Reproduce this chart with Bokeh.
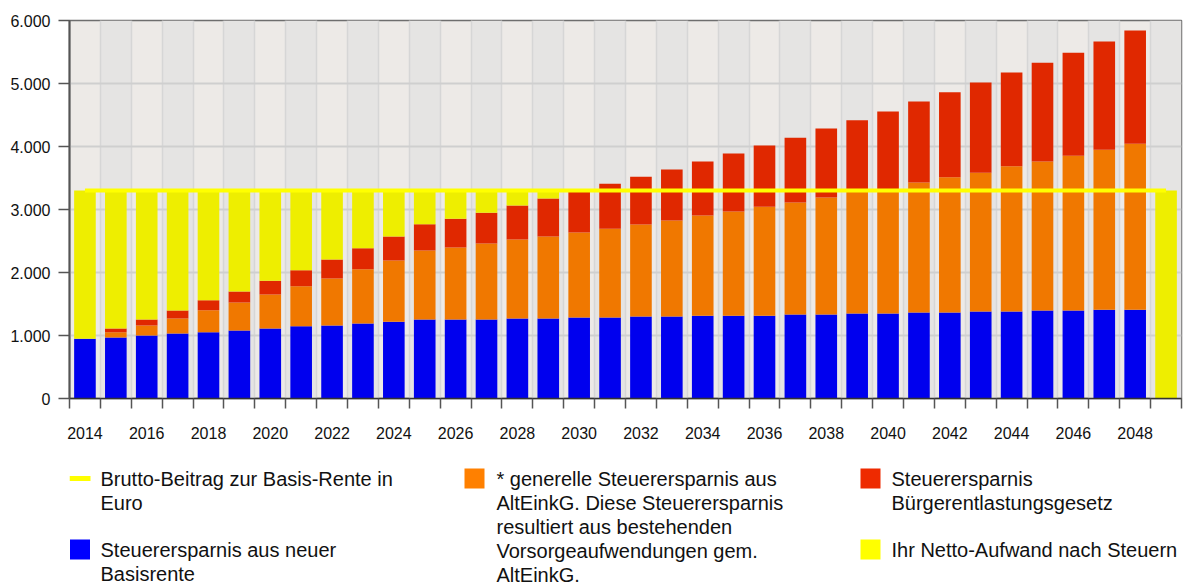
from bokeh.plotting import figure
from bokeh.models import Range1d, FixedTicker, ColumnDataSource, Label
from bokeh.layouts import column
from bokeh.embed import file_html
from bokeh.resources import INLINE

# ---------------- data ----------------
years = [2014, 2015, 2016, 2017, 2018, 2019, 2020, 2021, 2022, 2023, 2024, 2025,
         2026, 2027, 2028, 2029, 2030, 2031, 2032, 2033, 2034, 2035, 2036, 2037,
         2038, 2039, 2040, 2041, 2042, 2043, 2044, 2045, 2046, 2047, 2048, 2049]

# Steuerersparnis aus neuer Basisrente
blue = [950, 970, 1000, 1030, 1050, 1080, 1110, 1145, 1160, 1190, 1220, 1255,
        1255, 1255, 1270, 1270, 1285, 1285, 1300, 1300, 1315, 1315, 1315, 1335,
        1335, 1350, 1350, 1365, 1365, 1380, 1380, 1395, 1395, 1410, 1410, 0]
# * generelle Steuerersparnis aus AltEinkG.
orange = [0, 80, 160, 240, 350, 445, 540, 635, 745, 860, 970, 1095,
          1140, 1205, 1255, 1300, 1350, 1410, 1460, 1525, 1590, 1655, 1730, 1775,
          1855, 1930, 1960, 2065, 2145, 2205, 2305, 2365, 2460, 2540, 2635, 0]
# Steuerersparnis Bürgerentlastungsgesetz
red = [0, 60, 95, 125, 160, 175, 220, 255, 300, 335, 380, 415,
       460, 490, 540, 605, 665, 715, 760, 810, 855, 920, 970, 1030,
       1095, 1135, 1245, 1285, 1350, 1430, 1490, 1570, 1635, 1715, 1795, 0]
# Ihr Netto-Aufwand nach Steuern
netto = [2350, 2190, 2045, 1905, 1740, 1600, 1430, 1265, 1095, 915, 730, 535,
         445, 350, 235, 125, 0, 0, 0, 0, 0, 0, 0, 0,
         0, 0, 0, 0, 0, 0, 0, 0, 0, 0, 0, 3300]
# Brutto-Beitrag zur Basis-Rente in Euro
brutto = [3300, 3300, 3300, 3300, 3300, 3300, 3300, 3300, 3300, 3300, 3300, 3300,
          3300, 3300, 3300, 3300, 3300, 3300, 3300, 3300, 3300, 3300, 3300, 3300,
          3300, 3300, 3300, 3300, 3300, 3300, 3300, 3300, 3300, 3300, 3300, 3300]

y_ticks = [0, 1000, 2000, 3000, 4000, 5000, 6000]
x_label_years = [2014, 2016, 2018, 2020, 2022, 2024, 2026, 2028, 2030, 2032,
                 2034, 2036, 2038, 2040, 2042, 2044, 2046, 2048]

legend_texts = {
    "brutto": ["Brutto-Beitrag zur Basis-Rente in", "Euro"],
    "blue": ["Steuerersparnis aus neuer", "Basisrente"],
    "orange": ["* generelle Steuerersparnis aus", "AltEinkG. Diese Steuerersparnis",
               "resultiert aus bestehenden", "Vorsorgeaufwendungen gem.", "AltEinkG."],
    "red": ["Steuerersparnis", "Bürgerentlastungsgesetz"],
    "netto": ["Ihr Netto-Aufwand nach Steuern"],
}

# ---------------- styles ----------------
C_BLUE, C_ORANGE, C_RED, C_YELLOW = "#0000EE", "#F07800", "#E02800", "#EEEE00"
FONT = "Liberation Sans"
W = 1204
FRAME_L, FRAME_R = 69, 1181
H1 = 448

# ---------------- main chart ----------------
p = figure(width=W, height=H1, output_backend="svg", toolbar_location=None,
           x_range=Range1d(years[0] - 0.5, years[-1] + 0.5), y_range=Range1d(0, 6000),
           min_border_left=FRAME_L, min_border_right=W - FRAME_R, min_border_top=20,
           min_border_bottom=50,
           background_fill_color="#EDEAE7", border_fill_color="white",
           outline_line_color="#6E6E6E", outline_line_width=1.5)

src = ColumnDataSource(dict(year=years, blue=blue, orange=orange, red=red, netto=netto))
p.vbar_stack(["blue", "orange", "red", "netto"], x="year", width=0.7, source=src,
             fill_color=[C_BLUE, C_ORANGE, C_RED, C_YELLOW], line_color=None)
p.line(years, brutto, line_color="#FFFF00", line_width=4)

boundaries = [y - 0.5 for y in years] + [years[-1] + 0.5]

p.xaxis.ticker = FixedTicker(ticks=x_label_years, minor_ticks=boundaries)
p.xaxis.major_tick_line_color = None
p.xaxis.major_tick_out = 10
p.xaxis.major_tick_in = 0
p.xaxis.minor_tick_out = 10
p.xaxis.minor_tick_in = 0
p.xaxis.minor_tick_line_color = "#555555"
p.xaxis.minor_tick_line_width = 1.5
p.xaxis.axis_line_color = "#333333"
p.xaxis.axis_line_width = 1.5
p.xaxis.major_label_text_font = FONT
p.xaxis.major_label_text_font_size = "16px"
p.xaxis.major_label_text_color = "#111111"
p.xaxis.major_label_standoff = 18

p.yaxis.ticker = FixedTicker(ticks=y_ticks)
p.yaxis.major_label_overrides = {v: f"{v:,}".replace(",", ".") for v in y_ticks}
p.yaxis.major_tick_out = 11
p.yaxis.major_tick_in = 0
p.yaxis.major_tick_line_color = "#555555"
p.yaxis.major_tick_line_width = 1.5
p.yaxis.minor_tick_line_color = None
p.yaxis.axis_line_color = "#555555"
p.yaxis.axis_line_width = 2
p.yaxis.major_label_text_font = FONT
p.yaxis.major_label_text_font_size = "16px"
p.yaxis.major_label_text_color = "#111111"
p.yaxis.major_label_standoff = 8

p.xgrid.ticker = FixedTicker(ticks=boundaries)
p.xgrid.grid_line_color = "#D6D6D6"
p.xgrid.grid_line_width = 1.5
p.xgrid.band_fill_color = "#E5E4E3"
p.xgrid.band_fill_alpha = 1.0
p.ygrid.ticker = FixedTicker(ticks=y_ticks)
p.ygrid.grid_line_color = "#CFCFCF"
p.ygrid.grid_line_width = 2

# ---------------- legend (separate panel, page-pixel coordinates) ----------------
H2 = 586 - H1
lg = figure(width=W, height=H2, output_backend="svg", toolbar_location=None,
            x_range=Range1d(FRAME_L, FRAME_R), y_range=Range1d(586, H1),
            x_axis_type=None, y_axis_type=None,
            min_border_left=FRAME_L, min_border_right=W - FRAME_R,
            min_border_top=0, min_border_bottom=0,
            outline_line_color=None, background_fill_color="white", border_fill_color="white")
lg.grid.visible = False

ROW1, ROW2, STEP = 478, 549, 24
# swatches
lg.rect(x=[79.5], y=[ROW1], width=21, height=5, fill_color="#FFFF00", line_color=None)
lg.rect(x=[79.5, 474, 870, 870], y=[ROW2, ROW1, ROW1, ROW2], width=20, height=20,
        fill_color=["#0000FF", "#FF8000", "#EE2A00", "#FFFF00"], line_color=None)

for key, x0, y0 in [("brutto", 100, ROW1), ("blue", 100, ROW2), ("orange", 496, ROW1),
                    ("red", 891, ROW1), ("netto", 891, ROW2)]:
    for i, line in enumerate(legend_texts[key]):
        lg.add_layout(Label(x=x0, y=y0 + i * STEP, text=line,
                            text_font=FONT, text_font_size="20px",
                            text_baseline="middle", text_align="left",
                            text_color="#111111"))

layout = column(p, lg)
open("out.html", "w").write(file_html(layout, INLINE))
